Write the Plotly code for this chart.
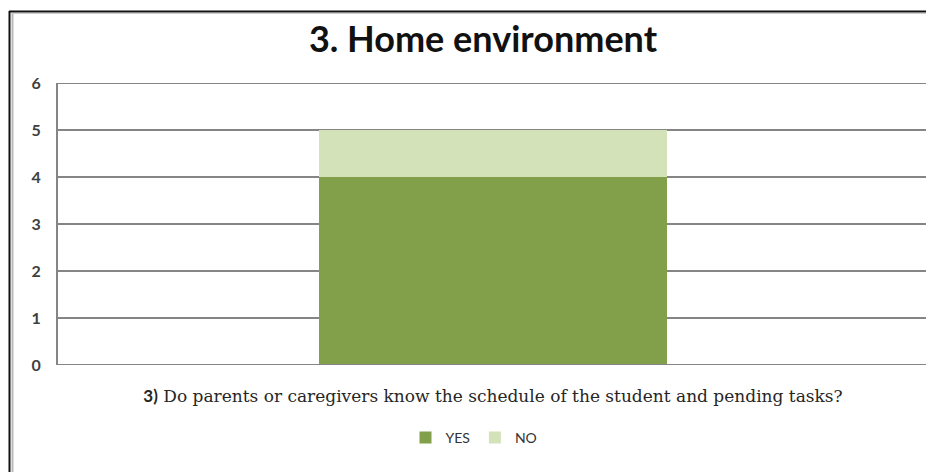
import plotly.graph_objects as go

categories = ["3) Do parents or caregivers know the schedule of the student and pending tasks?"]
series_names = ["YES", "NO"]
yes_values = [4]
no_values = [1]
colors = ["#82A04A", "#D4E2BA"]
y_ticks = [0, 1, 2, 3, 4, 5, 6]

OFF = 8  # page body margin
W, H = 934 - OFF, 472 - OFF
L = 58 - OFF
R = W - (928 - OFF)
T = 83 - OFF
B = H - (365 - OFF)
pw, ph = W - L - R, H - T - B

def px(x):
    return (x - OFF - L) / pw

def py(y):
    return (H - B - (y - OFF)) / ph

tick_text = ['<span style="font-family:Lato"><b>3)</b></span> Do parents or caregivers know the schedule of the student and pending tasks?']

fig = go.Figure()
fig.add_trace(go.Bar(x=categories, y=yes_values, name=series_names[0], marker=dict(color=colors[0], line=dict(width=0))))
fig.add_trace(go.Bar(x=categories, y=no_values, name=series_names[1], marker=dict(color=colors[1], line=dict(width=0))))

fig.update_layout(
    width=W, height=H,
    margin=dict(l=L, r=R, t=T, b=B, pad=0),
    barmode="stack", bargap=0.6,
    plot_bgcolor="white", paper_bgcolor="white",
    title=dict(text="<b>3. Home environment</b>", x=px(483), xref="paper", xanchor="center",
               y=1 - (39 - OFF) / H, yanchor="middle",
               font=dict(family="Lato", size=36, color="#111111")),
    legend=dict(orientation="h", x=px(474), xanchor="center", y=py(438), yanchor="middle",
                font=dict(family="Lato", size=14, color="#333333"), itemwidth=30,
                traceorder="normal", bgcolor="rgba(0,0,0,0)"),
    showlegend=True,
)
fig.update_xaxes(tickvals=categories, ticktext=tick_text, showgrid=False, showline=False,
                 ticks="", ticklabelstandoff=19,
                 tickfont=dict(family="DejaVu Serif, Liberation Serif", size=17, color="#262626"),
                 fixedrange=True)
fig.update_yaxes(range=[0, 6], tickvals=y_ticks, showgrid=True, gridcolor="#858585", gridwidth=2,
                 zeroline=False, showline=True, linecolor="#858585", linewidth=2,
                 ticks="", ticklabelstandoff=12,
                 tickfont=dict(family="Lato", size=16, color="#404040", weight="bold"), fixedrange=True)

# axis lines at 0 and top gridline at 6
for yv in (y_ticks[0], y_ticks[-1]):
    fig.add_shape(type="line", xref="paper", yref="y", x0=0, x1=1, y0=yv, y1=yv,
                  line=dict(color="#858585", width=2), layer="above" if yv == 0 else "below")
# faint right plot border
fig.add_shape(type="line", xref="paper", yref="paper", x0=px(927), x1=px(927), y0=0, y1=1,
              line=dict(color="#E3E3E3", width=1), layer="below")
# outer frame: top and left border
fig.add_shape(type="line", xref="paper", yref="paper", x0=px(9), x1=px(934), y0=py(11.5), y1=py(11.5),
              line=dict(color="#111111", width=2))
fig.add_shape(type="line", xref="paper", yref="paper", x0=px(9.5), x1=px(9.5), y0=py(11), y1=py(472),
              line=dict(color="#111111", width=2))
fig.add_shape(type="line", xref="paper", yref="paper", x0=px(12.5), x1=px(12.5), y0=py(13), y1=py(472),
              line=dict(color="#BBBBBB", width=2))
fig.add_shape(type="line", xref="paper", yref="paper", x0=px(12), x1=px(934), y0=py(13.5), y1=py(13.5),
              line=dict(color="#CCCCCC", width=1))

fig.write_html("out.html")
